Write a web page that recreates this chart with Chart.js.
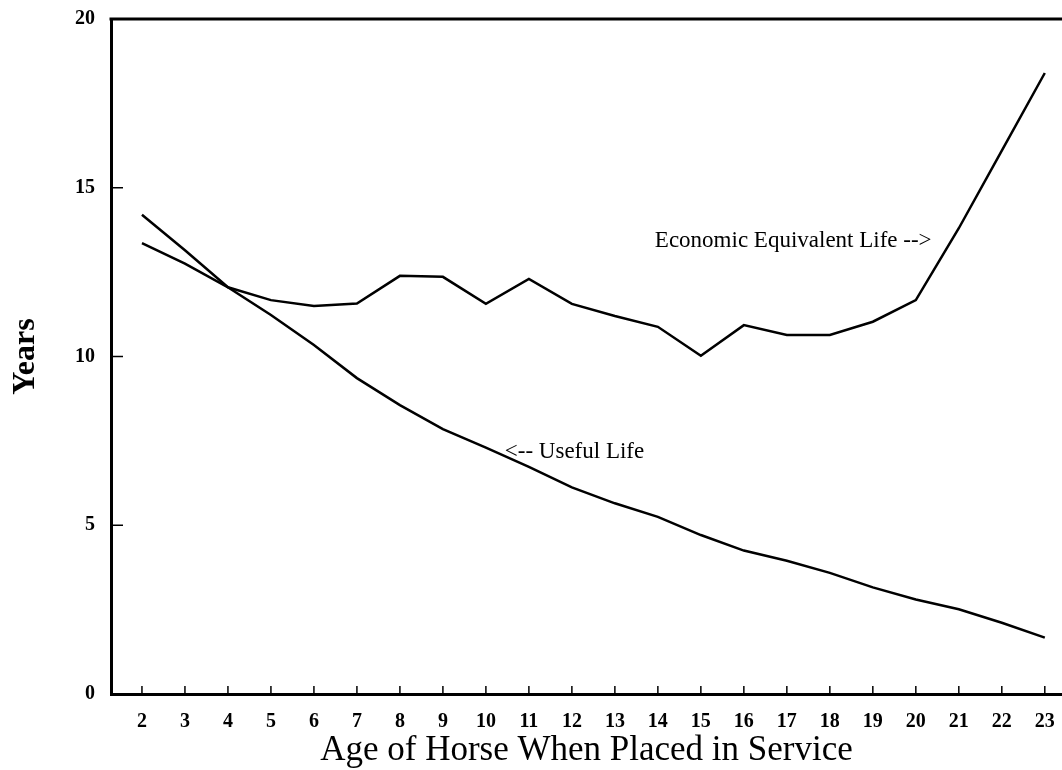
<!DOCTYPE html>
<html>
<head>
<meta charset="utf-8">
<script src="https://cdn.jsdelivr.net/npm/chart.js@4"></script>
<style>
  html, body { margin: 0; padding: 0; background: #fff; }
  #caja { width: 1062px; height: 770px; position: relative; }
</style>
</head>
<body>
<div id="caja"><canvas id="grafico"></canvas></div>
<script>
// edad del caballo al entrar en servicio
const edades = [2, 3, 4, 5, 6, 7, 8, 9, 10, 11, 12, 13, 14, 15, 16, 17, 18, 19, 20, 21, 22, 23]
// vida equivalente economica (anios)
const vidaEconomica = [13.36, 12.75, 12.05, 11.67, 11.5, 11.57, 12.39, 12.36, 11.56, 12.3, 11.56,
  11.2, 10.88, 10.02, 10.93, 10.64, 10.64, 11.03, 11.67, 13.8, 16.1, 18.4]
// vida util (anios)
const vidaUtil = [14.2, 13.15, 12.05, 11.23, 10.34, 9.36, 8.56, 7.85, 7.3, 6.73, 6.12,
  5.65, 5.25, 4.71, 4.25, 3.95, 3.59, 3.16, 2.8, 2.51, 2.11, 1.67]
const ticksY = [0, 5, 10, 15, 20]
const notas = [
  { texto: 'Economic Equivalent Life -->', x: 13.93, y: 13.24 },
  { texto: '<-- Useful Life', x: 10.44, y: 6.99 }
]

const fuente = '"Liberation Serif", "Times New Roman", serif'

const marcas = {
  id: 'marcas',
  afterDraw(chart) {
    const { ctx, chartArea, scales: { x, y } } = chart
    ctx.save()
    ctx.strokeStyle = '#000'
    // linea superior del marco
    ctx.lineWidth = 3
    ctx.beginPath()
    ctx.moveTo(chartArea.left - 1.5, chartArea.top)
    ctx.lineTo(chartArea.right, chartArea.top)
    ctx.stroke()
    // marcas hacia adentro
    ctx.lineWidth = 1.5
    edades.forEach(e => {
      const px = x.getPixelForValue(e)
      ctx.beginPath()
      ctx.moveTo(px, chartArea.bottom)
      ctx.lineTo(px, chartArea.bottom - 8)
      ctx.stroke()
    })
    ticksY.slice(1, -1).forEach(v => {
      const py = y.getPixelForValue(v)
      ctx.beginPath()
      ctx.moveTo(chartArea.left, py)
      ctx.lineTo(chartArea.left + 12, py)
      ctx.stroke()
    })
    // textos sobre las curvas
    ctx.fillStyle = '#000'
    ctx.font = '23px ' + fuente
    ctx.textAlign = 'left'
    ctx.textBaseline = 'alphabetic'
    notas.forEach(n => {
      ctx.fillText(n.texto, x.getPixelForValue(n.x), y.getPixelForValue(n.y))
    })
    ctx.restore()
  }
}

const datos = {
  datasets: [{
    label: 'Economic Equivalent Life',
    data: edades.map((e, i) => ({ x: e, y: vidaEconomica[i] })),
    borderColor: '#000',
    borderWidth: 2.5,
    pointRadius: 0,
    tension: 0
  }, {
    label: 'Useful Life',
    data: edades.map((e, i) => ({ x: e, y: vidaUtil[i] })),
    borderColor: '#000',
    borderWidth: 2.5,
    pointRadius: 0,
    tension: 0
  }]
}

const config = {
  type: 'line',
  data: datos,
  plugins: [marcas],
  options: {
    responsive: true,
    maintainAspectRatio: false,
    animation: false,
    layout: { padding: { top: 19, right: 0, left: 0, bottom: 0 } },
    plugins: {
      legend: { display: false },
      tooltip: { enabled: false }
    },
    scales: {
      x: {
        type: 'linear',
        min: 1.28,
        max: 23.4,
        afterBuildTicks: s => { s.ticks = edades.map(v => ({ value: v })) },
        afterFit: s => {
          s.height = 76
          s.paddingLeft = 0
          s.paddingRight = 0
        },
        grid: { display: false, drawTicks: false },
        border: { display: true, color: '#000', width: 3 },
        ticks: {
          color: '#000',
          padding: 16,
          autoSkip: false,
          maxRotation: 0,
          font: { family: fuente, size: 20, weight: 'bold' }
        },
        title: {
          display: true,
          text: 'Age of Horse When Placed in Service',
          color: '#000',
          padding: { top: 0, bottom: 2 },
          font: { family: fuente, size: 35, lineHeight: 1.0 }
        }
      },
      y: {
        min: 0,
        max: 20,
        afterBuildTicks: s => { s.ticks = ticksY.map(v => ({ value: v })) },
        afterFit: s => {
          s.width = 111
          s.paddingTop = 0
          s.paddingBottom = 0
        },
        grid: { display: false, drawTicks: false },
        border: { display: true, color: '#000', width: 3 },
        ticks: {
          color: '#000',
          padding: 16,
          font: { family: fuente, size: 20, weight: 'bold' }
        },
        title: {
          display: true,
          text: 'Years',
          color: '#000',
          padding: { top: 7, bottom: 0 },
          font: { family: fuente, size: 32, weight: 'bold' }
        }
      }
    }
  }
}

document.addEventListener('DOMContentLoaded', () => {
  const grafico = new Chart(document.getElementById('grafico'), config)
})
</script>
</body>
</html>
